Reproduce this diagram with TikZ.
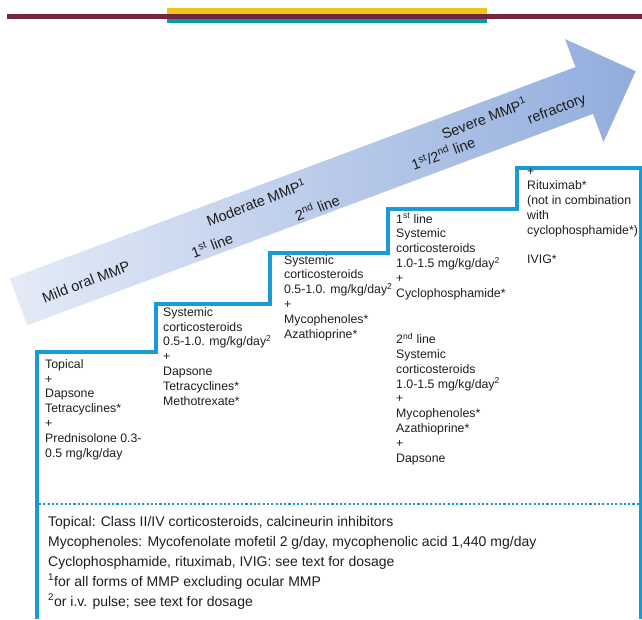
\documentclass[tikz,border=0pt]{standalone}
\usepackage{fontspec}
\setmainfont{Liberation Sans}
\usepackage{xcolor}
\usepackage{tikz}
\definecolor{stairBlue}{RGB}{24,156,214}
\definecolor{arrowLight}{RGB}{228,235,247}
\definecolor{arrowDark}{RGB}{146,172,221}
\definecolor{barMaroon}{RGB}{114,38,66}
\definecolor{barYellow}{RGB}{240,196,24}
\definecolor{barTeal}{RGB}{0,161,154}
\definecolor{textGray}{RGB}{30,30,30}

\begin{document}
\begin{tikzpicture}[x=1pt, y=-1pt,
  stairline/.style={draw=stairBlue, line width=3.4pt},
  dotline/.style={draw=stairBlue, line width=2.2pt, dash pattern=on 2.1pt off 2.2pt},
  arrowlabel/.style={rotate=21, inner sep=0, text=textGray, font=\fontsize{14.5}{17}\selectfont},
  steptext/.style={anchor=base west, align=left, inner sep=0, text=textGray, font=\fontsize{12.3}{14.8}\selectfont},
  notetext/.style={anchor=base west, align=left, inner sep=0, text=textGray, font=\fontsize{14}{19.8}\selectfont}]
\useasboundingbox (0,0) rectangle (642,619);

\fill[barYellow] (167,8) rectangle (487,13.5);
\fill[barTeal] (167,18.5) rectangle (487,23);
\fill[barMaroon] (7,13.5) rectangle (642,18.5);

\begin{scope}[shift={(18.5,302)}, rotate=20.5]
\shade[left color=arrowLight, right color=arrowDark] (0,-25) -- (604,-25) -- (604,-55) -- (659,0) -- (604,55) -- (604,25) -- (0,25) -- cycle;
\end{scope}

\node[arrowlabel] (mild) at (86,282) {Mild oral MMP};
\node[arrowlabel] (modfirst) at (212,245) {1\textsuperscript{st} line};
\node[arrowlabel] (moderate) at (256,202) {Moderate MMP\textsuperscript{1}};
\node[arrowlabel] (modsecond) at (317,207) {2\textsuperscript{nd} line};
\node[arrowlabel] (sevline) at (443,153) {1\textsuperscript{st}/2\textsuperscript{nd} line};
\node[arrowlabel] (severe) at (484,118) {Severe MMP\textsuperscript{1}};
\node[arrowlabel] (refract) at (557,110) {refractory};

\draw[stairline] (37,619) -- (37,352) -- (156,352) -- (156,304) -- (270,304) -- (270,253) -- (388,253) -- (388,209) -- (517,209) -- (517,168) -- (641,168) -- (641,619);
\draw[dotline] (39,504) -- (640,504);

\node[steptext] (mildtx) at (45,457) {Topical\\+\\Dapsone\\Tetracyclines*\\+\\Prednisolone 0.3-\\0.5 mg/kg/day};
\node[steptext] (modfirsttx) at (163,405) {Systemic\\corticosteroids\\0.5-1.0. mg/kg/day\textsuperscript{2}\\+\\Dapsone\\Tetracyclines*\\Methotrexate*};
\node[steptext] (modsecondtx) at (284,338) {Systemic\\corticosteroids\\0.5-1.0. mg/kg/day\textsuperscript{2}\\+\\Mycophenoles*\\Azathioprine*};
\node[steptext] (sevfirsttx) at (396,297) {1\textsuperscript{st} line\\Systemic\\corticosteroids\\1.0-1.5 mg/kg/day\textsuperscript{2}\\+\\Cyclophosphamide*};
\node[steptext] (sevsecondtx) at (396,462) {2\textsuperscript{nd} line\\Systemic\\corticosteroids\\1.0-1.5 mg/kg/day\textsuperscript{2}\\+\\Mycophenoles*\\Azathioprine*\\+\\Dapsone};
\node[steptext] (refracttx) at (527,263) {+\\Rituximab*\\(not in combination\\with\\cyclophosphamide*)\\[14pt]IVIG*};

\node[notetext] (notes) at (48,606) {Topical: Class II/IV corticosteroids, calcineurin inhibitors\\Mycophenoles: Mycofenolate mofetil 2 g/day, mycophenolic acid 1,440 mg/day\\Cyclophosphamide, rituximab, IVIG: see text for dosage\\\textsuperscript{1}for all forms of MMP excluding ocular MMP\\\textsuperscript{2}or i.v. pulse; see text for dosage};
\end{tikzpicture}
\end{document}
